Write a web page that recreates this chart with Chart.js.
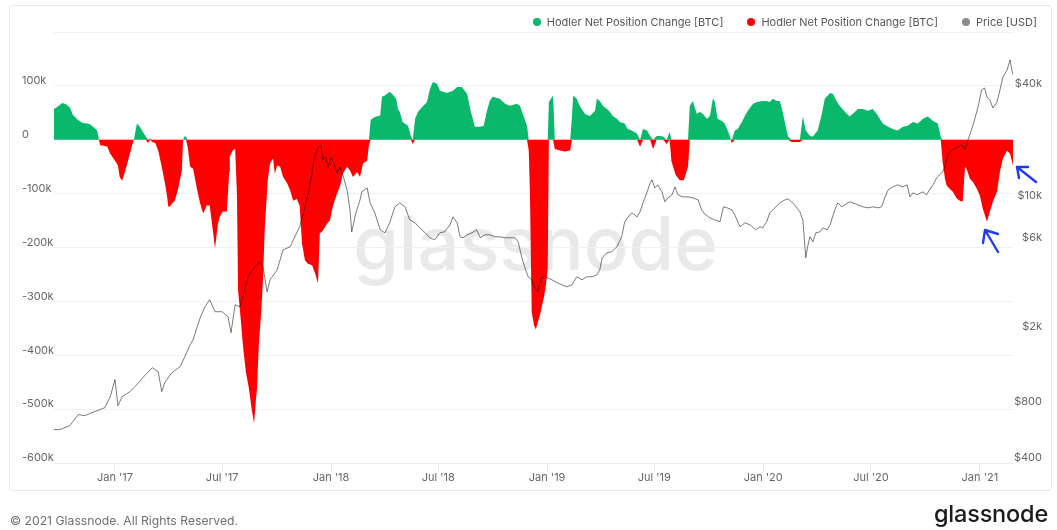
<!DOCTYPE html>
<html>
<head>
<meta charset="utf-8">
<script src="https://cdn.jsdelivr.net/npm/chart.js@4.4.1/dist/chart.umd.min.js"></script>
<style>
  html, body { margin:0; padding:0; background:#fff; }
  body { width:1057px; height:530px; position:relative; overflow:hidden; font-family: Inter, "Noto Sans", sans-serif; }
  #card { position:absolute; left:9px; top:5px; width:1043px; height:486px; border:1px solid #e8e8e8; border-radius:3px; box-sizing:border-box; }
  #wm { position:absolute; left:353px; top:206px; font-size:74px; line-height:74px; font-weight:500; color:#e9e9e9; white-space:nowrap; }
  #c { position:absolute; left:0; top:0; }
  #legend { position:absolute; right:20px; top:15px; display:flex; align-items:center; font-size:11px; line-height:14px; color:#555; white-space:nowrap; }
  #legend .item { display:flex; align-items:center; margin-left:24px; }
  #legend .dot { width:8px; height:8px; border-radius:50%; margin-right:6px; }
  #foot { position:absolute; left:10px; top:513px; font-size:12.2px; line-height:16px; color:#6f6f6f; }
  #logo { position:absolute; right:9px; top:500px; font-size:23.5px; line-height:28px; font-weight:500; color:#1b1b1b; letter-spacing:-0.2px; }
  #arrows { position:absolute; left:0; top:0; pointer-events:none; }
</style>
</head>
<body>
<div id="card"></div>
<div id="wm">glassnode</div>
<canvas id="c" width="1057" height="530"></canvas>
<div id="legend"></div>
<svg id="arrows" width="1057" height="530">
  <g stroke="#1f3cf5" stroke-width="2.4" fill="none" stroke-linecap="round" stroke-linejoin="round">
    <path d="M1017 167 L1036 182 M1017 167 L1028 167 M1017 167 L1019 178"/>
    <path d="M985 230 L998 252 M985 230 L998 234 M985 230 L983 243"/>
  </g>
</svg>
<div id="foot">© 2021 Glassnode. All Rights Reserved.</div>
<div id="logo">glassnode</div>
<script>
// ---- data (x = days since 2016-09-20) ----
const START_DATE = '2016-09-20';

const hodlerDays = [
  0,7,14,20,27,32,41,49,56,61,
  66,73,76,78,84,90,95,103,108,111,
  115,120,125,132,135,140,145,150,155,159,
  162,166,171,176,182,187,191,193,196,199,
  204,209,216,218,220,223,226,230,235,242,
  247,252,258,263,269,272,277,280,285,292,
  296,297,302,306,309,311,316,319,324,329,
  334,338,341,343,346,350,353,356,361,365,
  370,373,377,382,387,394,399,404,410,415,
  419,424,429,436,441,446,449,454,461,466,
  471,478,483,488,495,500,505,512,517,522,
  529,532,535,542,551,554,559,567,573,578,
  581,584,589,598,603,606,610,615,622,630,
  635,640,647,652,664,674,681,689,698,703,
  711,720,726,731,736,741,753,762,770,782,
  787,792,799,802,804,806,807,811,814,817,
  821,824,828,831,834,836,843,844,846,855,
  863,872,875,877,883,888,897,905,914,917,
  922,927,934,939,944,951,956,964,969,976,
  985,990,995,1002,1007,1012,1018,1023,1029,1035,
  1040,1043,1050,1057,1064,1071,1074,1079,1086,1091,
  1096,1103,1108,1113,1116,1121,1128,1133,1138,1143,
  1145,1150,1155,1162,1167,1172,1181,1187,1196,1204,
  1209,1214,1221,1226,1231,1235,1240,1246,1255,1260,
  1265,1270,1277,1282,1290,1297,1302,1311,1316,1322,
  1327,1336,1344,1353,1358,1366,1375,1383,1390,1395,
  1400,1409,1417,1425,1434,1442,1451,1459,1468,1476,
  1485,1493,1498,1501,1505,1508,1513,1518,1525,1530,
  1535,1539,1542,1547,1552,1559,1564,1569,1576,1581,
  1586,1593,1598,1603,1610,1615,1620
];

// Hodler net position change, thousands of BTC
const hodlerChangeK = [
  57,62,68,66,60,46,36,31,30,29,
  24,17,0,-10,-11,-13,-26,-39,-48,-69,
  -76,-59,-39,-10,0,30,24,15,6,-6,
  3,-4,-6,-20,-50,-78,-105,-124,-124,-119,
  -113,-94,-57,0,6,5,-15,-50,-54,-94,
  -119,-137,-122,-122,-174,-202,-156,-143,-133,-133,
  -60,-31,-20,-17,-100,-280,-340,-380,-430,-460,
  -500,-526,-485,-461,-380,-320,-260,-165,-76,-44,
  -35,-63,-48,-50,-69,-81,-94,-113,-110,-122,
  -193,-224,-230,-233,-248,-267,-174,-169,-156,-150,
  -124,-100,-87,-63,-50,-57,-69,-60,-69,-44,
  -39,-10,37,42,45,80,82,89,83,76,
  57,52,33,26,7,-8,39,52,61,70,
  94,107,104,91,87,91,98,98,85,57,
  24,24,26,52,72,80,76,67,63,67,
  63,48,26,-20,-100,-250,-320,-345,-352,-340,
  -325,-310,-290,-270,-239,70,82,60,-17,-20,
  -22,-20,44,82,76,63,48,44,54,76,
  72,63,57,52,44,39,33,30,20,17,
  11,-13,20,17,7,-17,7,7,6,-8,
  15,-40,-65,-75,-75,-50,63,72,48,52,
  48,39,44,76,72,39,35,30,17,2,
  -6,17,20,33,44,54,67,70,72,72,
  70,76,72,72,52,30,6,-4,-4,-4,
  43,17,7,6,17,48,76,87,85,72,
  63,52,43,52,57,57,54,57,48,39,
  30,24,20,17,24,26,33,30,39,43,
  35,30,5,-40,-72,-85,-91,-96,-109,-113,
  -115,-50,-55,-72,-78,-91,-104,-128,-152,-133,
  -115,-96,-59,-35,-20,-26,-48
];

const priceDays = [
  0,10,27,41,52,69,86,95,103,108,
  115,128,140,150,166,176,182,187,199,213,
  221,230,235,242,247,255,263,272,284,294,
  299,306,314,319,328,339,348,353,360,365,
  377,387,399,410,415,424,432,439,446,451,
  454,459,463,468,473,478,483,488,495,500,
  503,510,517,520,529,534,542,551,559,567,
  576,584,593,601,610,618,627,635,643,652,
  660,669,674,681,686,691,698,706,714,720,
  728,736,745,753,762,770,779,784,790,795,
  801,807,812,817,823,829,834,841,850,858,
  866,875,883,892,900,909,917,922,926,934,
  942,951,959,964,969,976,985,990,995,1002,
  1007,1010,1015,1020,1027,1032,1037,1044,1049,1054,
  1062,1071,1079,1088,1094,1099,1108,1116,1125,1131,
  1137,1145,1150,1159,1167,1176,1185,1193,1197,1204,
  1209,1218,1226,1235,1240,1246,1251,1260,1265,1268,
  1270,1273,1277,1282,1287,1294,1299,1306,1311,1319,
  1324,1331,1336,1344,1349,1358,1366,1375,1383,1392,
  1398,1404,1409,1417,1425,1434,1441,1446,1451,1458,
  1464,1468,1474,1479,1485,1491,1496,1501,1505,1510,
  1517,1525,1534,1539,1544,1550,1555,1561,1567,1572,
  1576,1581,1586,1593,1598,1603,1610,1615,1618,1620
];

// BTC price, USD
const priceUsd = [
  603,603,634,725,716,753,790,904,1114,809,
  904,961,1048,1142,1291,1229,961,1074,1214,1307,
  1478,1713,1821,2136,2386,2731,2976,2569,2569,2415,
  1985,2799,2731,3087,3948,4464,4746,4464,3284,3804,
  4302,5500,5706,6776,7294,9327,11923,16608,19486,19723,
  16608,17232,15240,17021,16006,14157,15240,13815,11490,8989,
  6860,8664,10162,11212,11775,9794,8664,7031,6776,7662,
  9327,9794,9327,7947,7662,7206,6776,6374,6218,6776,
  6860,7474,8246,7662,6454,6374,6613,6776,7031,6374,
  6613,6613,6454,6454,6374,6374,6374,6067,5047,4464,
  3948,3804,3450,3284,3900,3948,3900,3804,3667,3578,
  3491,3578,3948,3804,3948,3948,4045,4302,4986,5301,
  5367,5706,6454,7756,8147,8664,8246,8770,9794,11212,
  12522,12992,11775,12218,11212,9915,10415,10807,11923,10807,
  10544,10544,10415,10162,8989,8557,8147,7947,7756,9327,
  9212,8989,8453,7294,7662,7474,7031,7294,7206,7756,
  8664,9212,9794,10162,10287,9915,9558,8770,7947,5994,
  4986,5706,6454,6067,6776,6860,7206,7031,7474,8989,
  9794,9327,9558,9915,9794,9558,9327,9212,9327,9212,
  9327,10544,11490,11923,12218,11923,12218,10544,11074,10807,
  11074,11212,10807,11490,12218,13312,13815,14333,15240,17660,
  18776,19241,19963,18776,21231,24003,27143,31840,39237,40208,
  36007,34704,31453,33866,39237,46024,50162,56710,50162,47175
];

const xTickDates  = ['2017-01-01','2017-07-01','2018-01-01','2018-07-01','2019-01-01','2019-07-01','2020-01-01','2020-07-01','2021-01-01'];
const xTickLabels = ["Jan '17","Jul '17","Jan '18","Jul '18","Jan '19","Jul '19","Jan '20","Jul '20","Jan '21"];
const priceTicks      = [400, 800, 2000, 6000, 10000, 40000];
const priceTickLabels = ['$400', '$800', '$2k', '$6k', '$10k', '$40k'];
const hodlerTicksK    = [200, 100, 0, -100, -200, -300, -400, -500, -600];
const hodlerTickLabels= ['', '100k', '0', '-100k', '-200k', '-300k', '-400k', '-500k', '-600k'];

const seriesNames  = ['Hodler Net Position Change [BTC]', 'Hodler Net Position Change [BTC]', 'Price [USD]'];
const seriesColors = ['#0ab86c', '#ff0000', '#8a8a8a'];

// ---- build ----
function dayOf(s) {
  const [y, m, d] = s.split('-').map(Number);
  const [y0, m0, d0] = START_DATE.split('-').map(Number);
  return (Date.UTC(y, m - 1, d) - Date.UTC(y0, m0 - 1, d0)) / 86400000;
}
const greenData = hodlerDays.map((d, i) => ({ x: d, y: Math.max(hodlerChangeK[i], 0) * 1000 }));
const redData   = hodlerDays.map((d, i) => ({ x: d, y: Math.min(hodlerChangeK[i], 0) * 1000 }));
const priceData = priceDays.map((d, i) => ({ x: d, y: priceUsd[i] }));

const tickFont = { family: 'Inter', size: 11 };
const tickColor = '#666';

new Chart(document.getElementById('c'), {
  type: 'line',
  data: {
    datasets: [
      { label: seriesNames[0], data: greenData, yAxisID: 'y', fill: 'origin', backgroundColor: seriesColors[0], borderWidth: 0, pointRadius: 0, tension: 0, order: 2 },
      { label: seriesNames[1], data: redData, yAxisID: 'y', fill: 'origin', backgroundColor: seriesColors[1], borderWidth: 0, pointRadius: 0, tension: 0, order: 2 },
      { label: seriesNames[2], data: priceData, yAxisID: 'y1', fill: false, borderColor: 'rgba(0,0,0,0.52)', borderWidth: 1, pointRadius: 0, tension: 0, order: 0 }
    ]
  },
  options: {
    responsive: false,
    animation: false,
    devicePixelRatio: 1,
    layout: { padding: { left: 22, right: 15, top: 32, bottom: 37 } },
    plugins: { legend: { display: false }, tooltip: { enabled: false } },
    scales: {
      x: {
        type: 'linear', min: 0, max: dayOf('2021-02-26'),
        afterBuildTicks: s => { s.ticks = xTickDates.map(t => ({ value: dayOf(t) })); },
        afterFit: s => { s.height = 30; },
        ticks: { callback: (v, i) => xTickLabels[i], color: tickColor, font: tickFont, padding: 0, maxRotation: 0, autoSkip: false },
        grid: { drawOnChartArea: false, drawTicks: true, tickLength: 8, color: '#e8e8e8' },
        border: { display: true, color: '#ededed' }
      },
      y: {
        position: 'left', min: -600000, max: 200000,
        afterBuildTicks: s => { s.ticks = hodlerTicksK.map(v => ({ value: v * 1000 })); },
        afterFit: s => { s.width = 32; },
        ticks: { callback: (v, i) => hodlerTickLabels[i], crossAlign: 'far', labelOffset: -5, color: tickColor, font: tickFont },
        grid: { color: '#f0f0f0', drawTicks: false },
        border: { display: false }
      },
      y1: {
        type: 'logarithmic', position: 'right', min: 400, max: 80000,
        afterBuildTicks: s => { s.ticks = priceTicks.map(v => ({ value: v })); },
        afterFit: s => { s.width = 29; },
        ticks: { callback: (v, i) => priceTickLabels[i], crossAlign: 'far', labelOffset: -5, color: tickColor, font: tickFont },
        grid: { display: false },
        border: { display: false }
      }
    }
  }
});

// HTML legend from series names/colours
const lg = document.getElementById('legend');
seriesNames.forEach((n, i) => {
  const it = document.createElement('div'); it.className = 'item';
  const dot = document.createElement('span'); dot.className = 'dot'; dot.style.background = seriesColors[i];
  const tx = document.createElement('span'); tx.textContent = n;
  it.appendChild(dot); it.appendChild(tx); lg.appendChild(it);
});
</script>
</body>
</html>
